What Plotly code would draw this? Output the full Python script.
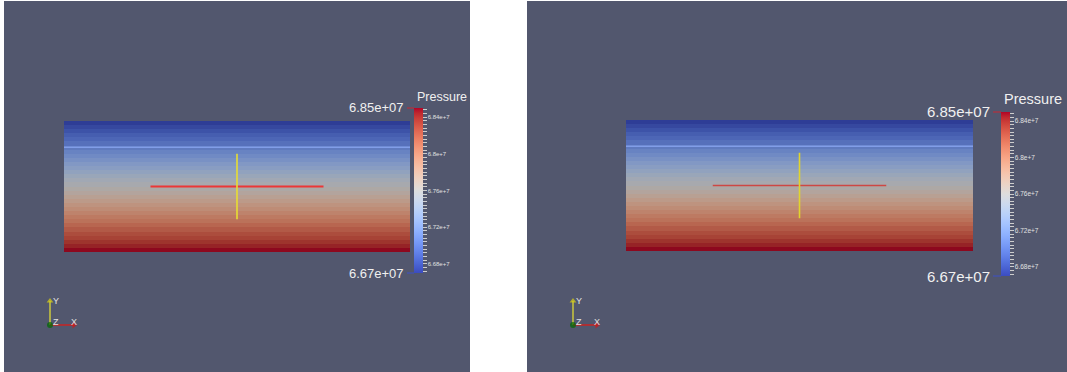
import numpy as np
import plotly.graph_objects as go

# ---------------------------------------------------------------------------
# Pressure field of the block (Pa / 1e7), one value per cell row, top -> bottom
pressure_rows_e7 = [6.671, 6.677, 6.683, 6.689, 6.694, 6.700, 6.706, 6.712,
                    6.717, 6.723, 6.729, 6.734, 6.740, 6.746, 6.752, 6.757,
                    6.763, 6.768, 6.774, 6.780, 6.786, 6.791, 6.797, 6.803,
                    6.808, 6.814, 6.820, 6.826, 6.831, 6.837, 6.843, 6.849]
pressure_range = [6.67e7, 6.85e7]
major_ticks_e7 = [6.68, 6.72, 6.76, 6.80, 6.84]
major_tick_text = ["6.68e+7", "6.72e+7", "6.76e+7", "6.8e+7", "6.84e+7"]
minor_ticks_e7 = [6.672, 6.676, 6.680, 6.684, 6.688, 6.692, 6.696, 6.700,
                  6.704, 6.708, 6.712, 6.716, 6.720, 6.724, 6.728, 6.732,
                  6.736, 6.740, 6.744, 6.748, 6.752, 6.756, 6.760, 6.764,
                  6.768, 6.772, 6.776, 6.780, 6.784, 6.788, 6.792, 6.796,
                  6.800, 6.804, 6.808, 6.812, 6.816, 6.820, 6.824, 6.828,
                  6.832, 6.836, 6.840, 6.844, 6.848]
range_labels = ["6.85e+07", "6.67e+07"]

# Block geometry (model units)
block_length = 264.0
block_depth = 100.0
interface_depth = 20.0                 # layer boundary drawn across the block
probe_center = (132.0, 50.0)           # point-widget centre (x, depth)
probe_half_extent = (66.0, 25.0)       # half lengths of the widget arms

# Orientation triad labels
triad_labels = ["X", "Y", "Z"]

# ---------------------------------------------------------------------------
W, H = 1067, 372
BG = "rgb(82,87,110)"
FONT = "Liberation Sans, Arial"


def fx(px):
    return px / W


def fy(py):
    return 1 - py / H


# ParaView "Cool to Warm" control points
cool_warm = [
    (0.00000, (59, 76, 192)), (0.03125, (68, 90, 204)), (0.06250, (77, 104, 215)),
    (0.09375, (87, 117, 225)), (0.12500, (98, 130, 234)), (0.15625, (108, 142, 241)),
    (0.18750, (119, 154, 247)), (0.21875, (130, 165, 251)), (0.25000, (141, 176, 254)),
    (0.28125, (152, 185, 255)), (0.31250, (163, 194, 255)), (0.34375, (174, 201, 253)),
    (0.37500, (184, 208, 249)), (0.40625, (194, 213, 244)), (0.43750, (204, 217, 238)),
    (0.46875, (213, 219, 230)), (0.50000, (221, 221, 221)), (0.53125, (229, 216, 209)),
    (0.56250, (236, 211, 197)), (0.59375, (241, 204, 185)), (0.62500, (245, 196, 173)),
    (0.65625, (247, 187, 160)), (0.68750, (247, 177, 148)), (0.71875, (247, 166, 135)),
    (0.75000, (244, 154, 123)), (0.78125, (241, 141, 111)), (0.81250, (236, 127, 99)),
    (0.84375, (229, 112, 88)), (0.87500, (222, 96, 77)), (0.90625, (213, 80, 66)),
    (0.93750, (203, 62, 56)), (0.96875, (192, 40, 47)), (1.00000, (180, 4, 38)),
]


def scale(factor):
    return [[t, "rgb(%d,%d,%d)" % tuple(int(round(c * factor)) for c in rgb)]
            for t, rgb in cool_warm]


bright_scale = scale(1.0)
lit_scale = scale(0.77)          # surface as rendered under the headlight

pressure = np.array(pressure_rows_e7) * 1e7
z = [[p] for p in pressure]
depth_edges = np.linspace(0, block_depth, len(pressure) + 1)

# Panel layouts: (panel box, block box, colourbar box, font sizes, line styles)
panels = [
    dict(box=(4, 1, 470, 372), block=(64, 121, 410, 252), cbar=(414, 108, 423, 273),
         title_y=97, title_size=12.5, label_size=13, label_right=406, tick_size=6,
         h_color="rgb(235,55,55)", h_width=2, v_color="rgb(232,222,50)",
         triad_origin=(50, 325)),
    dict(box=(527, 1, 1067, 372), block=(626, 120, 973, 251), cbar=(1001, 112, 1010, 276),
         title_y=99, title_size=14.5, label_size=15, label_right=992, tick_size=6.5,
         h_color="rgb(205,72,68)", h_width=1.6, v_color="rgb(225,212,45)",
         triad_origin=(573, 325)),
]

fig = go.Figure()
shapes, annotations = [], []
layout_axes = {}
hidden = dict(visible=False, showgrid=False, zeroline=False, fixedrange=True)

for i, p in enumerate(panels):
    n = 2 * i + 1
    xa, ya = ("x" if n == 1 else f"x{n}"), ("y" if n == 1 else f"y{n}")
    xt, yt = f"x{n + 1}", f"y{n + 1}"
    cax = "coloraxis" if i == 0 else "coloraxis2"

    # panel background
    bx0, by0, bx1, by1 = p["box"]
    shapes.append(dict(type="rect", xref="paper", yref="paper", x0=fx(bx0), x1=fx(bx1),
                       y0=fy(by1), y1=fy(by0), fillcolor=BG, line_width=0, layer="below"))

    # block field
    fig.add_trace(go.Heatmap(z=z, x=[0, block_length], y=depth_edges, colorscale=lit_scale,
                             zmin=pressure_range[0], zmax=pressure_range[1], showscale=False,
                             xaxis=xa, yaxis=ya, hoverinfo="skip"))
    # colour legend carrier
    fig.add_trace(go.Scatter(x=[probe_center[0]], y=[probe_center[1]], mode="markers",
                             marker=dict(size=0, opacity=0, color=[pressure[len(pressure) // 2]],
                                         coloraxis=cax),
                             xaxis=xa, yaxis=ya, hoverinfo="skip", showlegend=False))
    # layer interface
    fig.add_trace(go.Scatter(x=[0, block_length], y=[interface_depth, interface_depth],
                             mode="lines", line=dict(color="rgba(140,170,245,0.75)", width=1.5),
                             xaxis=xa, yaxis=ya, hoverinfo="skip", showlegend=False))
    # point widget arms
    cx, cz = probe_center
    hx, hz = probe_half_extent
    fig.add_trace(go.Scatter(x=[cx - hx, cx + hx], y=[cz, cz], mode="lines",
                             line=dict(color=p["h_color"], width=p["h_width"]),
                             xaxis=xa, yaxis=ya, hoverinfo="skip", showlegend=False))
    fig.add_trace(go.Scatter(x=[cx, cx], y=[cz - hz, cz + hz], mode="lines",
                             line=dict(color=p["v_color"], width=1.6),
                             xaxis=xa, yaxis=ya, hoverinfo="skip", showlegend=False))

    kx0, ky0, kx1, ky1 = p["block"]
    layout_axes["xaxis" if n == 1 else f"xaxis{n}"] = dict(
        hidden, domain=[fx(kx0), fx(kx1)], range=[0, block_length], anchor=ya)
    layout_axes["yaxis" if n == 1 else f"yaxis{n}"] = dict(
        hidden, domain=[fy(ky1), fy(ky0)], range=[block_depth, 0], anchor=xa)

    # orientation triad
    ox, oy = p["triad_origin"]
    unit = 24.0
    fig.add_trace(go.Scatter(x=[0, 0], y=[0, 1], mode="lines",
                             line=dict(color="rgb(205,200,60)", width=1.5),
                             xaxis=xt, yaxis=yt, hoverinfo="skip", showlegend=False))
    fig.add_trace(go.Scatter(x=[0, 1], y=[0, 0], mode="lines",
                             line=dict(color="rgb(200,35,35)", width=1.5),
                             xaxis=xt, yaxis=yt, hoverinfo="skip", showlegend=False))
    fig.add_trace(go.Scatter(x=[0, 1, 0], y=[1, 0, 0], mode="markers",
                             marker=dict(symbol=["triangle-up", "triangle-right", "circle"],
                                         size=[6, 6, 6],
                                         color=["rgb(220,210,20)", "rgb(210,20,20)", "rgb(0,105,0)"],
                                         line_width=0),
                             xaxis=xt, yaxis=yt, hoverinfo="skip", showlegend=False))
    for lab, (lx, ly) in zip(triad_labels, [(1.0, 0.14), (0.27, 1.0), (0.27, 0.14)]):
        annotations.append(dict(text=lab, x=lx, y=ly, xref=xt, yref=yt, showarrow=False,
                                font=dict(size=9, color="rgb(225,225,225)", family=FONT),
                                xanchor="center", yanchor="middle"))
    pad = 10
    layout_axes[f"xaxis{n + 1}"] = dict(hidden, domain=[fx(ox - pad), fx(ox - pad + 40)],
                                        range=[-pad / unit, (40 - pad) / unit], anchor=yt)
    layout_axes[f"yaxis{n + 1}"] = dict(hidden, domain=[fy(oy + pad), fy(oy + pad - 40)],
                                        range=[-pad / unit, (40 - pad) / unit], anchor=xt)

    # colour legend
    cx0, cy0, cx1, cy1 = p["cbar"]
    ticks = [v * 1e7 for v in minor_ticks_e7]
    text = []
    for v in minor_ticks_e7:
        hit = [t for mv, t in zip(major_ticks_e7, major_tick_text) if abs(mv - v) < 1e-6]
        text.append(hit[0] if hit else "")
    layout_axes[cax] = dict(
        colorscale=bright_scale, cmin=pressure_range[0], cmax=pressure_range[1],
        colorbar=dict(x=fx(cx0), xanchor="left", y=fy((cy0 + cy1) / 2), yanchor="middle",
                      lenmode="pixels", len=cy1 - cy0, thicknessmode="pixels",
                      thickness=cx1 - cx0, xpad=0, ypad=0, outlinewidth=0,
                      tickmode="array", tickvals=ticks, ticktext=text,
                      ticks="outside", ticklen=4, tickwidth=1, tickcolor="rgb(205,205,205)",
                      tickfont=dict(size=p["tick_size"], color="rgb(225,225,225)",
                                    family=FONT)))

    annotations.append(dict(text="Pressure", x=fx(cx0 + 1), y=fy(p["title_y"]), xref="paper",
                            yref="paper", xanchor="left", yanchor="middle", showarrow=False,
                            font=dict(size=p["title_size"], color="rgb(240,240,240)",
                                      family=FONT)))
    for lab, yy, col in zip(range_labels, [cy0, cy1], ["rgb(200,40,50)", "rgb(60,80,200)"]):
        annotations.append(dict(text=lab, x=fx(p["label_right"]), y=fy(yy), xref="paper",
                                yref="paper", xanchor="right", yanchor="middle", showarrow=False,
                                font=dict(size=p["label_size"], color="rgb(240,240,240)",
                                          family=FONT)))
        shapes.append(dict(type="line", xref="paper", yref="paper",
                           x0=fx(p["label_right"] + 1), x1=fx(cx0), y0=fy(yy), y1=fy(yy),
                           line=dict(color=col, width=1)))

fig.update_layout(
    width=W, height=H, margin=dict(l=0, r=0, t=0, b=0),
    paper_bgcolor="white", plot_bgcolor="rgba(0,0,0,0)",
    showlegend=False, shapes=shapes, annotations=annotations,
    **layout_axes,
)

fig.write_html("out.html")
